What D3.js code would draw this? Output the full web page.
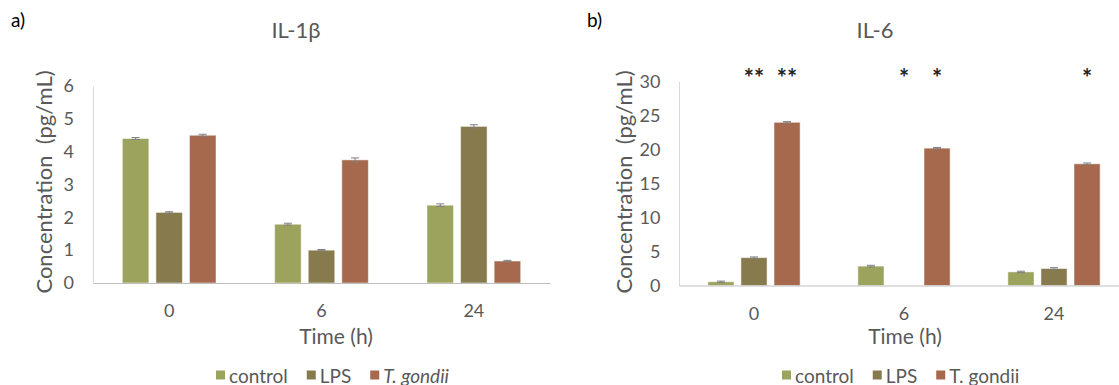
<!DOCTYPE html>
<html>
<head>
<meta charset="utf-8">
<script src="https://cdn.jsdelivr.net/npm/d3@7"></script>
<style>
  body { margin: 0; background: #fff; }
  svg text { font-family: Lato, "Open Sans", sans-serif; }
</style>
</head>
<body>
<svg id="chart"></svg>
<script>
const times = ["0", "6", "24"];
const seriesNames = ["control", "LPS", "T. gondii"];
const seriesColors = ["#9ba35d", "#877b4e", "#a6694d"];

// IL-1β, pg/mL
const il1bControl = [4.40, 1.79, 2.37];
const il1bLPS     = [2.15, 1.00, 4.77];
const il1bTgondii = [4.50, 3.75, 0.67];
const il1bErrControl = [0.03, 0.03, 0.04];
const il1bErrLPS     = [0.02, 0.02, 0.05];
const il1bErrTgondii = [0.03, 0.06, 0.02];
const il1bTicks = [0, 1, 2, 3, 4, 5, 6];

// IL-6, pg/mL
const il6Control = [0.55, 2.85, 2.00];
const il6LPS     = [4.10, 0, 2.50];
const il6Tgondii = [24.0, 20.2, 17.9];
const il6ErrControl = [0.10, 0.12, 0.10];
const il6ErrLPS     = [0.10, 0, 0.12];
const il6ErrTgondii = [0.10, 0.10, 0.12];
const il6SigControl = ["", "", ""];
const il6SigLPS     = ["**", "*", ""];
const il6SigTgondii = ["**", "*", "*"];
const il6Ticks = [0, 5, 10, 15, 20, 25, 30];

const width = 1119, height = 385;

const svg = d3.select("#chart")
  .attr("width", width)
  .attr("height", height);

function drawPanel(p) {
  const x = d3.scaleBand()
    .domain(times)
    .range([p.left, p.right]);

  const groupW = x.bandwidth() * 0.615;
  const xInner = d3.scaleBand()
    .domain(seriesNames)
    .range([(x.bandwidth() - groupW) / 2, (x.bandwidth() + groupW) / 2])
    .paddingInner(0.21);

  const y = d3.scaleLinear()
    .domain([0, p.max])
    .range([p.bottom, p.top]);

  // y axis
  const yAxis = svg.append("g")
    .attr("transform", `translate(${p.left},0)`)
    .call(d3.axisLeft(y)
      .tickValues(p.ticks)
      .tickFormat(d3.format("d"))
      .tickSize(0)
      .tickSizeOuter(0)
      .tickPadding(p.tickPad));
  yAxis.select(".domain").attr("stroke", "#d9d9d9");
  yAxis.selectAll("text")
    .attr("font-size", 18)
    .attr("font-family", null)
    .attr("fill", "#595959");

  // bars
  const groups = svg.append("g")
    .selectAll("g")
    .data(times)
    .join("g")
    .attr("transform", d => `translate(${x(d)},0)`);

  const cells = groups.selectAll("g")
    .data((t, i) => p.series.map(s => ({
      name: s.name, color: s.color, v: s.values[i], e: s.errors[i], sig: s.sig ? s.sig[i] : ""
    })))
    .join("g");

  cells.filter(d => d.v > 0)
    .append("rect")
    .attr("x", d => xInner(d.name))
    .attr("width", xInner.bandwidth())
    .attr("y", d => y(d.v))
    .attr("height", d => y(0) - y(d.v))
    .attr("fill", d => d.color)
    .attr("stroke", "#ffffff")
    .attr("stroke-opacity", 0.5);

  const err = cells.filter(d => d.v > 0).append("g")
    .attr("stroke", "#7f7f7f")
    .attr("stroke-width", 1);
  err.append("line")
    .attr("x1", d => xInner(d.name) + xInner.bandwidth() / 2)
    .attr("x2", d => xInner(d.name) + xInner.bandwidth() / 2)
    .attr("y1", d => y(d.v - d.e))
    .attr("y2", d => y(d.v + d.e));
  err.append("line")
    .attr("x1", d => xInner(d.name) + xInner.bandwidth() / 2 - 4)
    .attr("x2", d => xInner(d.name) + xInner.bandwidth() / 2 + 4)
    .attr("y1", d => y(d.v + d.e))
    .attr("y2", d => y(d.v + d.e));
  err.append("line")
    .attr("x1", d => xInner(d.name) + xInner.bandwidth() / 2 - 4)
    .attr("x2", d => xInner(d.name) + xInner.bandwidth() / 2 + 4)
    .attr("y1", d => y(d.v - d.e))
    .attr("y2", d => y(d.v - d.e));

  // significance marks
  cells.filter(d => d.sig)
    .append("text")
    .attr("x", d => xInner(d.name) + xInner.bandwidth() / 2)
    .attr("y", p.sigY)
    .attr("text-anchor", "middle")
    .attr("dominant-baseline", "central")
    .attr("font-size", 24)
    .attr("font-weight", "bold")
    .attr("fill", "#222")
    .text(d => d.sig);

  // x axis
  const xAxis = svg.append("g")
    .attr("transform", `translate(0,${p.bottom})`)
    .call(d3.axisBottom(x).tickSize(0).tickSizeOuter(0));
  xAxis.select(".domain").attr("stroke", "#bfbfbf");
  xAxis.selectAll("text")
    .attr("y", 28)
    .attr("dy", "0.35em")
    .attr("font-size", 18)
    .attr("font-family", null)
    .attr("fill", "#595959");

  // titles
  svg.append("text")
    .attr("x", p.labelX)
    .attr("y", 27)
    .attr("font-size", 19)
    .attr("fill", "#000")
    .text(p.label);

  svg.append("text")
    .attr("x", p.titleX)
    .attr("y", 38)
    .attr("text-anchor", "middle")
    .attr("font-size", 22)
    .attr("fill", "#595959")
    .text(p.title);

  svg.append("text")
    .attr("x", p.xTitleX)
    .attr("y", 335)
    .attr("text-anchor", "middle")
    .attr("dominant-baseline", "central")
    .attr("font-size", 21)
    .attr("fill", "#595959")
    .text("Time (h)");

  svg.append("text")
    .attr("transform", `translate(${p.yTitleX},182) rotate(-90)`)
    .attr("text-anchor", "middle")
    .attr("dominant-baseline", "central")
    .attr("font-size", 22)
    .attr("fill", "#595959")
    .style("white-space", "pre")
    .text("Concentration  (pg/mL)");

  // legend
  const legend = svg.append("g")
    .attr("transform", `translate(${p.legendX},375)`);
  let lx = 0;
  p.series.forEach(s => {
    legend.append("rect")
      .attr("x", lx)
      .attr("y", -4.5)
      .attr("width", 9)
      .attr("height", 9)
      .attr("fill", s.color);
    const t = legend.append("text")
      .attr("x", lx + 13)
      .attr("dominant-baseline", "central")
      .attr("font-size", 19)
      .attr("fill", "#595959")
      .attr("font-style", s.name === "T. gondii" && p.italicLegend ? "italic" : null)
      .text(s.name);
    lx += 13 + t.node().getComputedTextLength() + 19;
  });
}

drawPanel({
  label: "a)", labelX: 11,
  title: "IL-1β", titleX: 296,
  left: 93, right: 550, top: 86, bottom: 283,
  max: 6, ticks: il1bTicks, tickPad: 19,
  xTitleX: 336, yTitleX: 43, legendX: 216, italicLegend: true,
  series: [
    {name: seriesNames[0], color: seriesColors[0], values: il1bControl, errors: il1bErrControl},
    {name: seriesNames[1], color: seriesColors[1], values: il1bLPS, errors: il1bErrLPS},
    {name: seriesNames[2], color: seriesColors[2], values: il1bTgondii, errors: il1bErrTgondii}
  ]
});

drawPanel({
  label: "b)", labelX: 587,
  title: "IL-6", titleX: 875,
  left: 679, right: 1129, top: 81.5, bottom: 285.5,
  max: 30, ticks: il6Ticks, tickPad: 18.5, sigY: 77,
  xTitleX: 905, yTitleX: 623, legendX: 782, italicLegend: false,
  series: [
    {name: seriesNames[0], color: seriesColors[0], values: il6Control, errors: il6ErrControl, sig: il6SigControl},
    {name: seriesNames[1], color: seriesColors[1], values: il6LPS, errors: il6ErrLPS, sig: il6SigLPS},
    {name: seriesNames[2], color: seriesColors[2], values: il6Tgondii, errors: il6ErrTgondii, sig: il6SigTgondii}
  ]
});
</script>
</body>
</html>
